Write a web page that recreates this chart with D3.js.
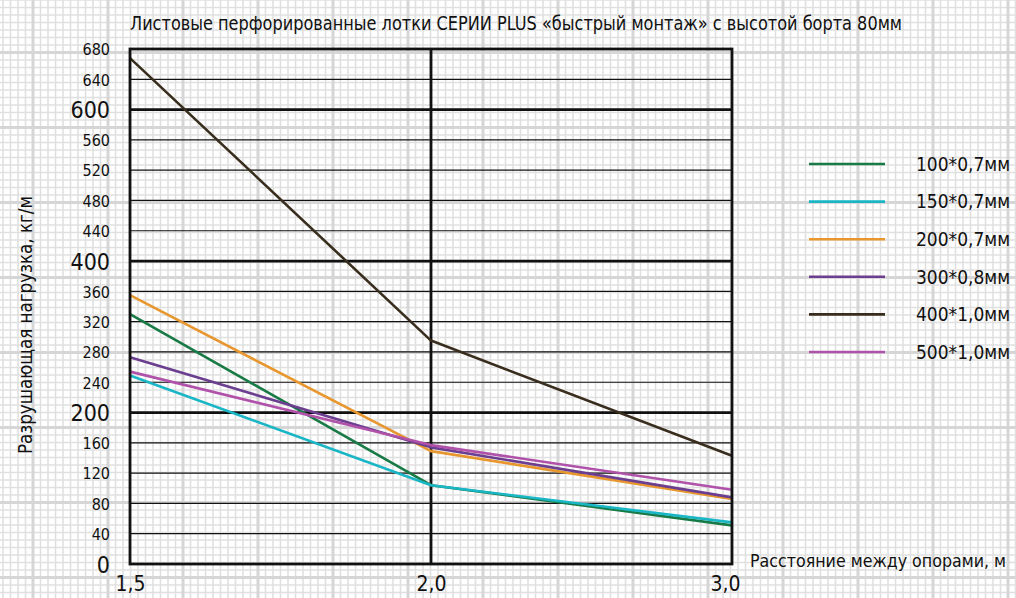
<!DOCTYPE html>
<html>
<head>
<meta charset="utf-8">
<script src="https://cdn.jsdelivr.net/npm/d3@7"></script>
<style>
  body { margin: 0; background: #fff; }
  text { font-family: "Liberation Sans Narrow", "DejaVu Sans Condensed", "Liberation Sans", sans-serif; fill: #111; }
</style>
</head>
<body>
<div id="chart"></div>
<script>
// data
var spans = ["1,5", "2,0", "3,0"];
var seriesNames = ["100*0,7мм", "150*0,7мм", "200*0,7мм", "300*0,8мм", "400*1,0мм", "500*1,0мм"];
var load100 = [330, 104, 51];
var load150 = [249, 104, 55];
var load200 = [355, 149, 86];
var load300 = [273, 154, 88];
var load400 = [668, 295, 143];
var load500 = [254, 157, 98];
var seriesColors = ["#187a45", "#1ab6c6", "#e8962e", "#6b3e8f", "#392d1d", "#b052aa"];
var yTickValues = d3.range(0, 681, 40);
var yMajorValues = [0, 200, 400, 600];

var width = 1016;
var height = 598;
var plot = {left: 130, right: 732, top: 49, bottom: 564};

var svg = d3.select('#chart').append('svg')
      .attr('width', width)
      .attr('height', height)
      .style('display', 'block')
      .style('background', '#fff');

// graph paper background
var paper = svg.append('g');
var minorStep = 7.5;
d3.range(-4, 136).forEach(function (i) {
      var x = 33 + i * minorStep;
      if (i % 10 == 0) return;
      paper.append('line').attr('x1', x).attr('x2', x).attr('y1', 0).attr('y2', height)
            .attr('stroke', '#e0e0e0').attr('stroke-width', 1.6);
});
d3.range(-7, 80).forEach(function (i) {
      var y = 52.5 + i * minorStep;
      if (i % 10 == 0) return;
      paper.append('line').attr('x1', 0).attr('x2', width).attr('y1', y).attr('y2', y)
            .attr('stroke', '#e0e0e0').attr('stroke-width', 1.6);
});
d3.range(-1, 14).forEach(function (i) {
      var x = 33 + i * 75;
      paper.append('line').attr('x1', x).attr('x2', x).attr('y1', 0).attr('y2', height)
            .attr('stroke', '#d6d6d6').attr('stroke-width', 3);
});
d3.range(-1, 8).forEach(function (i) {
      var y = 52.5 + i * 75;
      paper.append('line').attr('x1', 0).attr('x2', width).attr('y1', y).attr('y2', y)
            .attr('stroke', '#d6d6d6').attr('stroke-width', 3);
});

// scales
var xScale = d3.scalePoint()
      .domain(spans)
      .range([plot.left, plot.right]);

var yScale = d3.scaleLinear()
      .domain([0, 680])
      .range([plot.bottom, plot.top]);

// horizontal rules inside the plot
svg.append('g').selectAll('line')
      .data(yTickValues.filter(function (v) { return v > 0 && v < 680; }))
      .enter().append('line')
      .attr('x1', plot.left).attr('x2', plot.right)
      .attr('y1', function (d) { return yScale(d); })
      .attr('y2', function (d) { return yScale(d); })
      .attr('stroke', '#111')
      .attr('stroke-width', function (d) { return yMajorValues.indexOf(d) >= 0 ? 2.8 : 1.2; });

// vertical rule at 2,0
svg.append('line')
      .attr('x1', xScale('2,0')).attr('x2', xScale('2,0'))
      .attr('y1', plot.top).attr('y2', plot.bottom)
      .attr('stroke', '#111').attr('stroke-width', 2.8);

// y axis labels
var yAxis = d3.axisLeft(yScale)
      .tickValues(yTickValues)
      .tickSize(0)
      .tickPadding(20)
      .tickFormat(d3.format('d'));
var yAxisG = svg.append('g')
      .attr('transform', 'translate(' + plot.left + ',0)')
      .call(yAxis);
yAxisG.select('.domain').remove();
yAxisG.selectAll('text')
      .style('font-size', function (d) { return yMajorValues.indexOf(d) >= 0 ? '23px' : '16px'; })
      .attr('dy', '0.36em')
      .attr('fill', '#111');

// x axis labels
var xAxis = d3.axisBottom(xScale)
      .tickSize(0)
      .tickPadding(12);
var xAxisG = svg.append('g')
      .attr('transform', 'translate(0,' + plot.bottom + ')')
      .call(xAxis);
xAxisG.select('.domain').remove();
xAxisG.selectAll('text')
      .style('font-size', '21px')
      .attr('fill', '#111')
      .attr('dx', function (d, i) { return i == spans.length - 1 ? -7 : 0; });

// series lines
var allSeries = [load100, load150, load200, load300, load400, load500];
var line = d3.line()
      .x(function (d, i) { return xScale(spans[i]); })
      .y(function (d) { return yScale(d); });

svg.append('g').selectAll('path')
      .data(allSeries)
      .enter().append('path')
      .attr('d', line)
      .attr('fill', 'none')
      .attr('stroke', function (d, i) { return seriesColors[i]; })
      .attr('stroke-width', 2.6)
      .attr('stroke-linejoin', 'round');

// plot frame
svg.append('rect')
      .attr('x', plot.left).attr('y', plot.top)
      .attr('width', plot.right - plot.left)
      .attr('height', plot.bottom - plot.top)
      .attr('fill', 'none')
      .attr('stroke', '#111')
      .attr('stroke-width', 2.8);

// legend
var legend = svg.append('g').selectAll('g')
      .data(seriesNames)
      .enter().append('g')
      .attr('transform', function (d, i) { return 'translate(809,' + (164 + i * 37.6) + ')'; });
legend.append('line')
      .attr('x1', 0).attr('x2', 76)
      .attr('stroke', function (d, i) { return seriesColors[i]; })
      .attr('stroke-width', 2.6);
legend.append('text')
      .attr('x', 107)
      .attr('dy', '0.36em')
      .style('font-size', '19px')
      .text(function (d) { return d; });

// titles
svg.append('text')
      .attr('x', 130)
      .attr('y', 30)
      .style('font-size', '19px')
      .attr('textLength', 772)
      .attr('lengthAdjust', 'spacingAndGlyphs')
      .text('Листовые перфорированные лотки СЕРИИ PLUS «быстрый монтаж» с высотой борта 80мм');

svg.append('text')
      .attr('x', 750)
      .attr('y', 567)
      .style('font-size', '17.5px')
      .attr('textLength', 256)
      .attr('lengthAdjust', 'spacingAndGlyphs')
      .text('Расстояние между опорами, м');

svg.append('text')
      .attr('transform', 'translate(32,325) rotate(-90)')
      .style('text-anchor', 'middle')
      .style('font-size', '20px')
      .attr('textLength', 258)
      .attr('lengthAdjust', 'spacingAndGlyphs')
      .text('Разрушающая нагрузка, кг/м');
</script>
</body>
</html>
